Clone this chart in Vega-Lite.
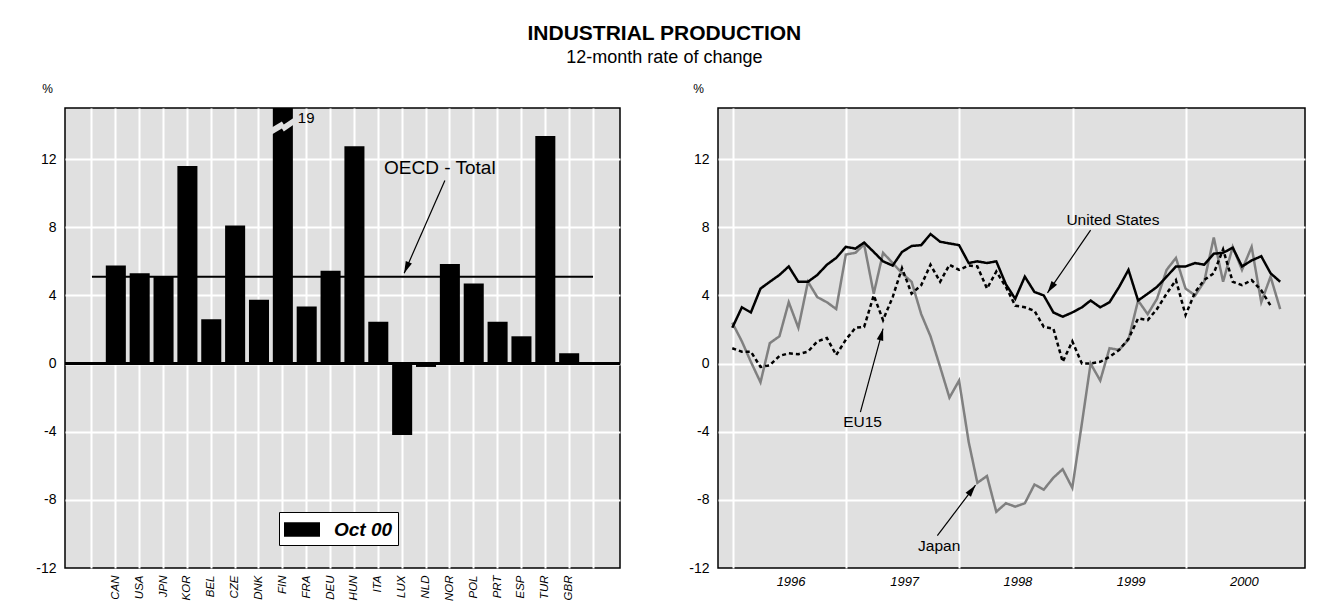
{
  "$schema": "https://vega.github.io/schema/vega-lite/v6.json",
  "background": "white",
  "padding": {"left": 35, "top": 23, "right": 5, "bottom": 5},
  "title": {
    "text": "INDUSTRIAL PRODUCTION",
    "subtitle": "12-month rate of change",
    "anchor": "middle",
    "dx": -6,
    "font": "Liberation Sans",
    "fontSize": 21,
    "fontWeight": "bold",
    "color": "black",
    "subtitleFont": "Liberation Sans",
    "subtitleFontSize": 18,
    "subtitleColor": "black",
    "subtitlePadding": 5,
    "offset": 14
  },
  "config": {
    "font": "Liberation Sans",
    "view": {"fill": "#e0e0e0", "stroke": "black", "strokeWidth": 1.5},
    "axis": {
      "domain": false,
      "ticks": false,
      "grid": true,
      "gridColor": "white",
      "gridWidth": 2,
      "labelFont": "Liberation Sans",
      "labelColor": "black",
      "titleFont": "Liberation Sans",
      "titleColor": "black"
    }
  },
  "bounds": "flush",
  "spacing": 98,
  "resolve": {"scale": {"color": "independent", "strokeDash": "independent"}, "legend": {"color": "independent", "strokeDash": "independent"}},
  "hconcat": [
    {
      "width": 555,
      "height": 460,
      "data": {"values": [
        {"country": "CAN", "value": 5.75},
        {"country": "USA", "value": 5.3},
        {"country": "JPN", "value": 5.1},
        {"country": "KOR", "value": 11.6},
        {"country": "BEL", "value": 2.6},
        {"country": "CZE", "value": 8.1},
        {"country": "DNK", "value": 3.75},
        {"country": "FIN", "value": 19},
        {"country": "FRA", "value": 3.35},
        {"country": "DEU", "value": 5.45},
        {"country": "HUN", "value": 12.75},
        {"country": "ITA", "value": 2.45},
        {"country": "LUX", "value": -4.2},
        {"country": "NLD", "value": -0.2},
        {"country": "NOR", "value": 5.85},
        {"country": "POL", "value": 4.7},
        {"country": "PRT", "value": 2.45},
        {"country": "ESP", "value": 1.6},
        {"country": "TUR", "value": 13.35},
        {"country": "GBR", "value": 0.6}
      ]},
      "layer": [
        {
          "mark": {"type": "bar", "clip": true},
          "encoding": {
            "x": {
              "field": "country", "type": "nominal", "sort": null, "title": null,
              "scale": {
                "domain": ["L", "CAN", "USA", "JPN", "KOR", "BEL", "CZE", "DNK", "FIN", "FRA", "DEU", "HUN", "ITA", "LUX", "NLD", "NOR", "POL", "PRT", "ESP", "TUR", "GBR", "R"],
                "paddingInner": 0.16,
                "paddingOuter": 0.71
              },
              "axis": {
                "labelAngle": 270,
                "labelFontStyle": "italic",
                "labelFontSize": 11.5,
                "labelPadding": 7,
                "labelExpr": "length(datum.value) < 3 ? '' : datum.value",
                "grid": true,
                "bandPosition": 0.5
              }
            },
            "y": {
              "field": "value", "type": "quantitative",
              "scale": {"domain": [-12, 15], "nice": false, "zero": false},
              "axis": {
                "values": [-12, -8, -4, 0, 4, 8, 12],
                "labelExpr": "replace(datum.label, '\u2212', '-')",
                "title": "%",
                "titleAngle": 0,
                "titleX": -18,
                "titleY": -16,
                "titleAlign": "center",
                "titleBaseline": "alphabetic",
                "titleFontWeight": "normal",
                "titleFontSize": 12,
                "labelFontSize": 14,
                "labelPadding": 9,
                "gridOpacity": {"condition": {"test": "datum.value === -12", "value": 0}, "value": 1}
              }
            },
            "color": {
              "datum": "Oct 00",
              "scale": {"domain": ["Oct 00"], "range": ["black"]},
              "legend": {
                "orient": "none",
                "legendX": 214,
                "legendY": 404,
                "title": null,
                "fillColor": "white",
                "strokeColor": "black",
                "padding": 5.5,
                "symbolType": "M-1.5,-0.6L1.5,-0.6L1.5,0.6L-1.5,0.6Z",
                "symbolSize": 576,
                "symbolStrokeWidth": 0,
                "symbolOpacity": 1,
                "symbolOffset": 5.5,
                "labelExpr": "datum.label + '\u2007\u2007'",
                "labelFont": "Liberation Sans",
                "labelFontSize": 19,
                "labelFontStyle": "italic",
                "labelFontWeight": "bold",
                "labelColor": "black",
                "labelOffset": 20
              }
            }
          }
        },
        {
          "mark": {"type": "rule", "color": "black", "strokeWidth": 2},
          "encoding": {"y": {"datum": 0}}
        },
        {
          "data": {"values": [{"series": "OECD - Total", "value": 5.1}]},
          "mark": {"type": "rule", "color": "black", "strokeWidth": 2},
          "encoding": {
            "x": {"datum": "L", "bandPosition": 0.5},
            "x2": {"datum": "R", "bandPosition": 0.5},
            "y": {"field": "value", "type": "quantitative"}
          }
        },
        {
          "data": {"values": [{"country": "FIN", "mark": 13.85}]},
          "mark": {"type": "point", "shape": "M-0.92,0L-0.08,-0.5L0.08,-0.25L0.92,-0.83L0.92,-0.25L0.08,0.33L-0.08,0.08L-0.92,0.58Z", "size": 576, "filled": true, "color": "#e0e0e0", "opacity": 1, "strokeWidth": 0},
          "encoding": {
            "x": {"field": "country", "type": "nominal"},
            "y": {"field": "mark", "type": "quantitative"}
          }
        },
        {
          "data": {"values": [{"country": "FIN", "pos": 14.4, "text": "19"}]},
          "mark": {"type": "text", "align": "left", "baseline": "middle", "dx": 15, "fontSize": 15, "font": "Liberation Sans", "color": "black"},
          "encoding": {
            "x": {"field": "country", "type": "nominal"},
            "y": {"field": "pos", "type": "quantitative"},
            "text": {"field": "text"}
          }
        },
        {
          "data": {"values": [{"label": "OECD - Total", "tx": "NOR", "ty": 11.5, "x1": "NOR", "y1": 10.75, "x2": "LUX", "y2": 5.3}]},
          "layer": [
            {
              "mark": {"type": "text", "fontSize": 19, "font": "Liberation Sans", "color": "black", "baseline": "middle", "dx": -10},
              "encoding": {
                "x": {"field": "tx", "type": "nominal"},
                "y": {"field": "ty", "type": "quantitative"},
                "text": {"field": "label"}
              }
            },
            {
              "mark": {"type": "rule", "color": "black", "strokeWidth": 1.2, "xOffset": -5, "x2Offset": 2},
              "encoding": {
                "x": {"field": "x1", "type": "nominal"},
                "x2": {"field": "x2"},
                "y": {"field": "y1", "type": "quantitative"},
                "y2": {"field": "y2"}
              }
            },
            {
              "mark": {"type": "point", "shape": "M0,0L-0.28,-1L0.28,-1Z", "size": 576, "filled": true, "color": "black", "opacity": 1, "strokeWidth": 0, "angle": 23, "xOffset": 2},
              "encoding": {
                "x": {"field": "x2", "type": "nominal"},
                "y": {"field": "y2", "type": "quantitative"}
              }
            }
          ]
        }
      ]
    },
    {
      "width": 587,
      "height": 460,
      "layer": [
        {
          "data": {"values": [
            {"month": "1995-12-31", "United States": 2.1, "Japan": 2.4, "EU15": 0.9},
            {"month": "1996-01-31", "United States": 3.3, "Japan": 1.3, "EU15": 0.7},
            {"month": "1996-02-29", "United States": 3.0, "Japan": 0.1, "EU15": 0.7},
            {"month": "1996-03-31", "United States": 4.4, "Japan": -1.1, "EU15": -0.2},
            {"month": "1996-04-30", "United States": 4.8, "Japan": 1.2, "EU15": -0.1},
            {"month": "1996-05-31", "United States": 5.2, "Japan": 1.6, "EU15": 0.45},
            {"month": "1996-06-30", "United States": 5.7, "Japan": 3.6, "EU15": 0.6},
            {"month": "1996-07-31", "United States": 4.8, "Japan": 2.1, "EU15": 0.55},
            {"month": "1996-08-31", "United States": 4.8, "Japan": 4.8, "EU15": 0.7},
            {"month": "1996-09-30", "United States": 5.2, "Japan": 3.9, "EU15": 1.3},
            {"month": "1996-10-31", "United States": 5.8, "Japan": 3.6, "EU15": 1.5},
            {"month": "1996-11-30", "United States": 6.2, "Japan": 3.2, "EU15": 0.5},
            {"month": "1996-12-31", "United States": 6.85, "Japan": 6.4, "EU15": 1.4},
            {"month": "1997-01-31", "United States": 6.75, "Japan": 6.5, "EU15": 2.1},
            {"month": "1997-02-28", "United States": 7.1, "Japan": 7.0, "EU15": 2.15},
            {"month": "1997-03-31", "United States": 6.55, "Japan": 4.1, "EU15": 4.0},
            {"month": "1997-04-30", "United States": 6.0, "Japan": 6.5, "EU15": 2.55},
            {"month": "1997-05-31", "United States": 5.75, "Japan": 5.9, "EU15": 3.9},
            {"month": "1997-06-30", "United States": 6.55, "Japan": 5.3, "EU15": 5.6},
            {"month": "1997-07-31", "United States": 6.9, "Japan": 4.8, "EU15": 4.1},
            {"month": "1997-08-31", "United States": 6.95, "Japan": 2.9, "EU15": 4.6},
            {"month": "1997-09-30", "United States": 7.6, "Japan": 1.6, "EU15": 5.8},
            {"month": "1997-10-31", "United States": 7.15, "Japan": -0.2, "EU15": 4.8},
            {"month": "1997-11-30", "United States": 7.05, "Japan": -2.0, "EU15": 5.8},
            {"month": "1997-12-31", "United States": 6.95, "Japan": -1.0, "EU15": 5.5},
            {"month": "1998-01-31", "United States": 5.9, "Japan": -4.6, "EU15": 5.75},
            {"month": "1998-02-28", "United States": 6.0, "Japan": -7.0, "EU15": 5.7},
            {"month": "1998-03-31", "United States": 5.9, "Japan": -6.6, "EU15": 4.4},
            {"month": "1998-04-30", "United States": 6.0, "Japan": -8.7, "EU15": 5.4},
            {"month": "1998-05-31", "United States": 4.65, "Japan": -8.2, "EU15": 4.5},
            {"month": "1998-06-30", "United States": 3.8, "Japan": -8.4, "EU15": 3.4},
            {"month": "1998-07-31", "United States": 5.1, "Japan": -8.2, "EU15": 3.3},
            {"month": "1998-08-31", "United States": 4.2, "Japan": -7.1, "EU15": 3.1},
            {"month": "1998-09-30", "United States": 4.0, "Japan": -7.4, "EU15": 2.15},
            {"month": "1998-10-31", "United States": 3.0, "Japan": -6.7, "EU15": 2.05},
            {"month": "1998-11-30", "United States": 2.75, "Japan": -6.2, "EU15": 0.1},
            {"month": "1998-12-31", "United States": 3.0, "Japan": -7.3, "EU15": 1.3},
            {"month": "1999-01-31", "United States": 3.3, "Japan": -3.5, "EU15": 0.0},
            {"month": "1999-02-28", "United States": 3.7, "Japan": 0.0, "EU15": 0.0},
            {"month": "1999-03-31", "United States": 3.3, "Japan": -1.0, "EU15": 0.1},
            {"month": "1999-04-30", "United States": 3.6, "Japan": 0.9, "EU15": 0.4},
            {"month": "1999-05-31", "United States": 4.5, "Japan": 0.8, "EU15": 0.8},
            {"month": "1999-06-30", "United States": 5.5, "Japan": 1.4, "EU15": 1.45},
            {"month": "1999-07-31", "United States": 3.7, "Japan": 3.7, "EU15": 2.65},
            {"month": "1999-08-31", "United States": 4.1, "Japan": 2.9, "EU15": 2.55},
            {"month": "1999-09-30", "United States": 4.5, "Japan": 3.8, "EU15": 3.2},
            {"month": "1999-10-31", "United States": 5.1, "Japan": 5.5, "EU15": 4.1},
            {"month": "1999-11-30", "United States": 5.7, "Japan": 6.2, "EU15": 4.9},
            {"month": "1999-12-31", "United States": 5.7, "Japan": 4.4, "EU15": 2.85},
            {"month": "2000-01-31", "United States": 5.9, "Japan": 4.0, "EU15": 4.2},
            {"month": "2000-02-29", "United States": 5.8, "Japan": 4.8, "EU15": 4.9},
            {"month": "2000-03-31", "United States": 6.45, "Japan": 7.4, "EU15": 5.3},
            {"month": "2000-04-30", "United States": 6.5, "Japan": 4.8, "EU15": 6.7},
            {"month": "2000-05-31", "United States": 6.8, "Japan": 6.85, "EU15": 4.8},
            {"month": "2000-06-30", "United States": 5.7, "Japan": 5.5, "EU15": 4.6},
            {"month": "2000-07-31", "United States": 6.05, "Japan": 6.85, "EU15": 4.9},
            {"month": "2000-08-31", "United States": 6.3, "Japan": 3.6, "EU15": 4.3},
            {"month": "2000-09-30", "United States": 5.3, "Japan": 5.1, "EU15": 3.4},
            {"month": "2000-10-31", "United States": 4.8, "Japan": 3.2, "EU15": null}
          ]},
          "transform": [
            {"fold": ["Japan", "EU15", "United States"], "as": ["series", "value"]},
            {"filter": "isValid(datum.value)"}
          ],
          "mark": {"type": "line", "strokeWidth": 2.5},
          "encoding": {
            "x": {
              "field": "month", "type": "temporal", "title": null,
              "scale": {
                "type": "utc",
                "domain": [{"year": 1995, "month": 11, "date": 15, "utc": true}, {"year": 2001, "month": 1, "date": 19, "utc": true}],
                "nice": false
              },
              "axis": {
                "values": [
                  {"year": 1996, "month": 1, "date": 1, "utc": true},
                  {"year": 1997, "month": 1, "date": 1, "utc": true},
                  {"year": 1998, "month": 1, "date": 1, "utc": true},
                  {"year": 1999, "month": 1, "date": 1, "utc": true},
                  {"year": 2000, "month": 1, "date": 1, "utc": true}
                ],
                "format": "%Y",
                "formatType": "utc",
                "labelOffset": 58,
                "labelFontStyle": "italic",
                "labelFontSize": 13,
                "labelPadding": 7,
                "grid": true
              }
            },
            "y": {
              "field": "value", "type": "quantitative",
              "scale": {"domain": [-12, 15], "nice": false, "zero": false},
              "axis": {
                "values": [-12, -8, -4, 0, 4, 8, 12],
                "labelExpr": "replace(datum.label, '\u2212', '-')",
                "title": "%",
                "titleAngle": 0,
                "titleX": -20,
                "titleY": -16,
                "titleAlign": "center",
                "titleBaseline": "alphabetic",
                "titleFontWeight": "normal",
                "titleFontSize": 12,
                "labelFontSize": 14,
                "labelPadding": 9,
                "gridOpacity": {"condition": {"test": "datum.value === -12", "value": 0}, "value": 1}
              }
            },
            "color": {
              "field": "series", "type": "nominal", "legend": null,
              "scale": {"domain": ["Japan", "EU15", "United States"], "range": ["#808080", "black", "black"]}
            },
            "strokeDash": {
              "field": "series", "type": "nominal", "legend": null,
              "scale": {"domain": ["Japan", "EU15", "United States"], "range": [[1, 0], [4, 3], [1, 0]]}
            }
          }
        },
        {
          "mark": {"type": "rule", "color": "black", "strokeWidth": 2},
          "encoding": {"y": {"datum": 0}}
        },
        {
          "data": {"values": [
            {"label": "United States", "tx": "1999-05-11", "ty": 8.4, "x1": "1999-02-28", "y1": 7.83, "x2": "1998-10-12", "y2": 4.15},
            {"label": "EU15", "tx": "1997-02-23", "ty": -3.45, "x1": "1997-02-16", "y1": -2.85, "x2": "1997-04-30", "y2": 2.05},
            {"label": "Japan", "tx": "1997-10-28", "ty": -10.7, "x1": "1997-10-22", "y1": -10.1, "x2": "1998-02-22", "y2": -7.14}
          ]},
          "layer": [
            {
              "mark": {"type": "text", "fontSize": 15.5, "font": "Liberation Sans", "color": "black", "baseline": "middle"},
              "encoding": {
                "x": {"field": "tx", "type": "temporal"},
                "y": {"field": "ty", "type": "quantitative"},
                "text": {"field": "label"}
              }
            },
            {
              "mark": {"type": "rule", "color": "black", "strokeWidth": 1.2},
              "encoding": {
                "x": {"field": "x1", "type": "temporal"},
                "x2": {"field": "x2"},
                "y": {"field": "y1", "type": "quantitative"},
                "y2": {"field": "y2"}
              }
            },
            {
              "transform": [{"filter": "datum.label === 'United States'"}],
              "mark": {"type": "point", "shape": "M0,0L-0.28,-1L0.28,-1Z", "size": 576, "filled": true, "color": "black", "opacity": 1, "strokeWidth": 0, "angle": 34.5},
              "encoding": {
                "x": {"field": "x2", "type": "temporal"},
                "y": {"field": "y2", "type": "quantitative"}
              }
            },
            {
              "transform": [{"filter": "datum.label === 'EU15'"}],
              "mark": {"type": "point", "shape": "M0,0L-0.28,-1L0.28,-1Z", "size": 576, "filled": true, "color": "black", "opacity": 1, "strokeWidth": 0, "angle": 194.8},
              "encoding": {
                "x": {"field": "x2", "type": "temporal"},
                "y": {"field": "y2", "type": "quantitative"}
              }
            },
            {
              "transform": [{"filter": "datum.label === 'Japan'"}],
              "mark": {"type": "point", "shape": "M0,0L-0.28,-1L0.28,-1Z", "size": 576, "filled": true, "color": "black", "opacity": 1, "strokeWidth": 0, "angle": 217.2},
              "encoding": {
                "x": {"field": "x2", "type": "temporal"},
                "y": {"field": "y2", "type": "quantitative"}
              }
            }
          ]
        }
      ]
    }
  ]
}
